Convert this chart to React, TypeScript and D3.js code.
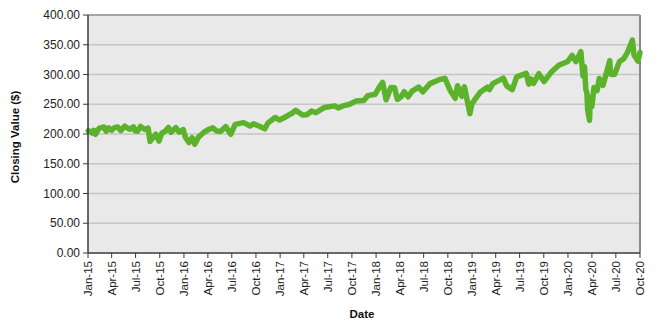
import React from "react";
import * as d3 from "d3";

const dates: string[] = [
  "2015-01-02","2015-01-09","2015-01-16","2015-01-23","2015-01-30","2015-02-06","2015-02-13","2015-03-02","2015-03-11","2015-03-20","2015-04-01","2015-04-10","2015-04-24","2015-05-06","2015-05-21","2015-06-08","2015-06-23","2015-06-29","2015-07-08","2015-07-20","2015-08-06","2015-08-18","2015-08-25","2015-09-01","2015-09-16","2015-09-28","2015-10-09","2015-10-23","2015-11-03","2015-11-13","2015-12-01","2015-12-14","2015-12-29",
  "2016-01-07","2016-01-20","2016-02-01","2016-02-11","2016-02-26","2016-03-15","2016-04-01","2016-04-20","2016-05-05","2016-05-19","2016-06-08","2016-06-27","2016-07-14","2016-08-15","2016-09-09","2016-09-22","2016-10-14","2016-11-04","2016-11-15","2016-12-13","2016-12-30",
  "2017-01-26","2017-02-15","2017-03-01","2017-03-27","2017-04-13","2017-05-01","2017-05-17","2017-06-19","2017-07-27","2017-08-10","2017-09-01","2017-09-22","2017-10-16","2017-11-15","2017-12-01","2017-12-29",
  "2018-01-12","2018-01-26","2018-02-08","2018-02-26","2018-03-12","2018-03-23","2018-04-06","2018-04-18","2018-05-03","2018-05-18","2018-06-12","2018-06-28","2018-07-25","2018-08-29","2018-09-20","2018-10-11","2018-10-29","2018-11-07","2018-11-23","2018-12-03","2018-12-24","2018-12-31",
  "2019-01-15","2019-02-01","2019-02-28","2019-03-08","2019-03-21","2019-04-30","2019-05-13","2019-06-03","2019-06-20","2019-07-26","2019-08-05","2019-08-13","2019-08-23","2019-09-12","2019-10-02","2019-10-28","2019-11-27","2019-12-31",
  "2020-01-17","2020-01-31","2020-02-19","2020-02-27","2020-03-04","2020-03-09","2020-03-13","2020-03-16","2020-03-23","2020-03-26","2020-04-01","2020-04-09","2020-04-21","2020-04-29","2020-05-13","2020-06-08","2020-06-11","2020-06-26","2020-07-15","2020-07-31","2020-08-14","2020-09-02","2020-09-08","2020-09-23","2020-10-01"
];

const closes: number[] = [
  205.4,204.3,201.6,206.1,199.4,205.6,209.8,211.9,204.5,210.4,206.4,210.2,211.9,205.7,213.1,207.9,212.0,205.4,204.5,212.6,207.5,209.9,187.3,191.8,199.7,188.1,201.4,205.3,211.0,202.9,210.7,203.0,207.4,
  194.1,185.6,193.7,182.9,195.1,202.2,206.9,210.4,205.0,204.2,212.4,199.6,216.1,219.1,213.3,217.2,213.1,208.6,218.3,227.8,223.5,
  229.9,234.9,239.8,231.9,232.5,238.7,235.8,244.6,247.3,243.8,247.8,250.0,255.3,256.4,264.5,266.9,
  278.0,286.6,257.6,278.0,277.9,258.1,262.5,271.0,262.6,272.0,278.9,270.9,284.7,291.3,293.6,272.2,259.9,281.0,263.3,279.3,234.3,249.9,
  260.0,270.1,278.7,274.5,284.7,294.0,280.9,274.6,295.9,302.0,283.8,292.5,284.9,301.3,288.1,303.3,315.5,321.9,
  331.9,321.7,338.3,297.5,312.9,274.2,269.3,239.9,222.9,261.2,246.2,278.2,273.0,293.2,281.6,323.2,300.6,300.1,321.9,326.5,336.8,357.7,333.2,322.6,337.0
];

const yTicks: number[] = [0, 50, 100, 150, 200, 250, 300, 350, 400];
const xTickDates: string[] = [
  "2015-01-01","2015-04-01","2015-07-01","2015-10-01",
  "2016-01-01","2016-04-01","2016-07-01","2016-10-01",
  "2017-01-01","2017-04-01","2017-07-01","2017-10-01",
  "2018-01-01","2018-04-01","2018-07-01","2018-10-01",
  "2019-01-01","2019-04-01","2019-07-01","2019-10-01",
  "2020-01-01","2020-04-01","2020-07-01","2020-10-01"
];

const W = 663, H = 326;
const L = 88, R = 640, T = 15, B = 253;

export default function App() {
  const parse = d3.timeParse("%Y-%m-%d");
  const fmt = d3.timeFormat("%b-%y");
  const data = dates.map((d, i) => ({ date: parse(d) as Date, value: closes[i] }));
  const ticks = xTickDates.map((d) => parse(d) as Date);
  const x = d3.scaleTime().domain([ticks[0], ticks[ticks.length - 1]]).range([L, R]);
  const y = d3.scaleLinear().domain([0, 400]).range([B, T]);
  const line = d3.line<{ date: Date; value: number }>().x((d) => x(d.date)).y((d) => y(d.value));
  const font = "Arial, 'Liberation Sans', sans-serif";

  return (
    <div style={{ position: "absolute", left: 0, top: 0, width: W, height: H, background: "#fff" }}>
      <svg width={W} height={H} style={{ display: "block" }}>
        <rect x={L} y={T} width={R - L} height={B - T} fill="#e9e9e9" />
        {yTicks.filter((v) => v > 0 && v < 400).map((v) => (
          <line key={v} x1={L} x2={R} y1={y(v)} y2={y(v)} stroke="#c6c6c6" strokeWidth={1.5} />
        ))}
        <line x1={L} x2={R} y1={T} y2={T} stroke="#8a8a8a" strokeWidth={1.5} />
        <line x1={R} x2={R} y1={T} y2={B} stroke="#8a8a8a" strokeWidth={2} />
        <path d={line(data) || ""} fill="none" stroke="#5cb22a" strokeWidth={5.5} strokeLinejoin="round" strokeLinecap="round" />
        <line x1={L} x2={L} y1={T} y2={B} stroke="#3a3a3a" strokeWidth={1.5} />
        <line x1={L} x2={R} y1={B} y2={B} stroke="#3a3a3a" strokeWidth={1.5} />
        {yTicks.map((v) => (
          <g key={"yt" + v}>
            <line x1={L - 5} x2={L} y1={y(v)} y2={y(v)} stroke="#3a3a3a" strokeWidth={1} />
            <text x={L - 8} y={y(v)} dy="0.35em" textAnchor="end" fontFamily={font} fontSize={12} fill="#222">
              {d3.format(".2f")(v)}
            </text>
          </g>
        ))}
        {ticks.map((t, i) => (
          <g key={"xt" + i}>
            <line x1={x(t)} x2={x(t)} y1={B} y2={B + 5} stroke="#3a3a3a" strokeWidth={1} />
            <text
              transform={`translate(${x(t)},${B + 8}) rotate(-90)`}
              dy="0.35em"
              textAnchor="end"
              fontFamily={font}
              fontSize={11.5}
              fill="#222"
            >
              {fmt(t)}
            </text>
          </g>
        ))}
        <text x={362} y={318} textAnchor="middle" fontFamily={font} fontSize={11.5} fontWeight="bold" fill="#111">
          Date
        </text>
        <text transform={`translate(19,137) rotate(-90)`} textAnchor="middle" fontFamily={font} fontSize={11.5} fontWeight="bold" fill="#111">
          Closing Value ($)
        </text>
      </svg>
    </div>
  );
}
